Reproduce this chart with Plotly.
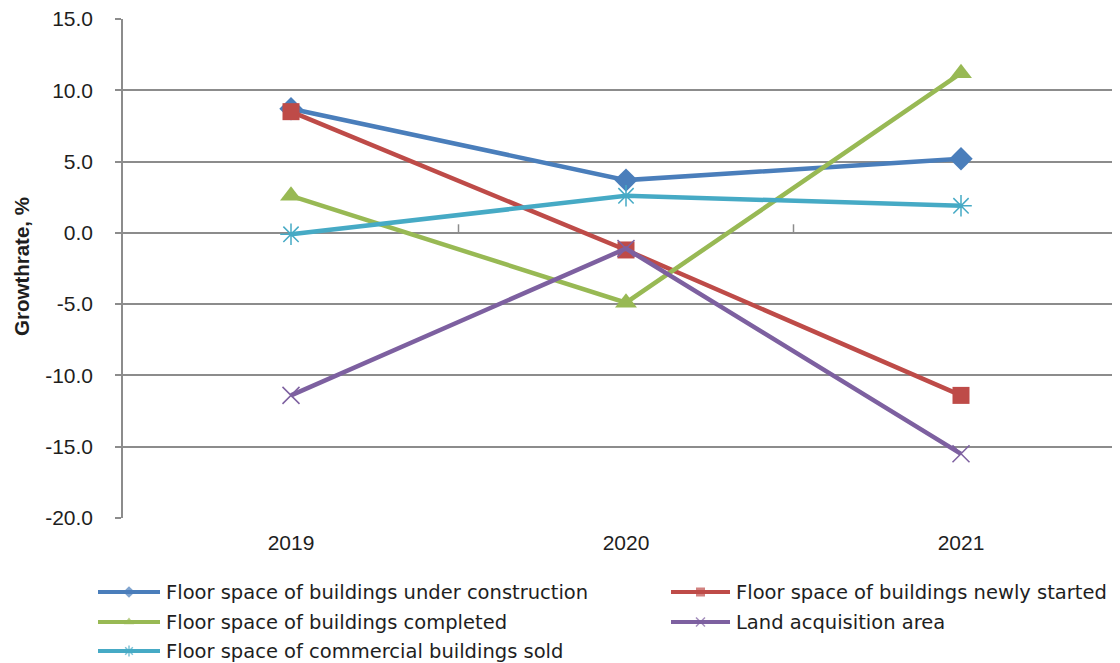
import plotly.graph_objects as go

years = ["2019", "2020", "2021"]
under_construction = [8.7, 3.7, 5.2]
newly_started = [8.5, -1.2, -11.4]
completed = [2.6, -4.9, 11.2]
land_acquisition = [-11.4, -1.1, -15.5]
commercial_sold = [-0.1, 2.6, 1.9]
y_ticks = [15, 10, 5, 0, -5, -10, -15, -20]

series = [
    ("Floor space of buildings under construction", under_construction, "#4A7EBB", "diamond", 18, 0),
    ("Floor space of buildings newly started", newly_started, "#BE4B48", "square", 17, 0),
    ("Floor space of buildings completed", completed, "#98B954", "triangle-up", 19, 0),
    ("Land acquisition area", land_acquisition, "#7D60A0", "x-thin-open", 17, 1.5),
    ("Floor space of commercial buildings sold", commercial_sold, "#46AAC5", "asterisk-open", 18, 1.5),
]

FONT = "Liberation Sans, Arial, sans-serif"
LEG_FONT = "DejaVu Sans, Liberation Sans, sans-serif"
OFF = 8                      # page body margin
W, H = 1120 - OFF, 663 - OFF
PL, PR, PT, PB = 123 - OFF, 1120 - OFF, 19 - OFF, 518 - OFF   # plot area (figure px)
LEG_TOP = 560 - OFF

fig = go.Figure()
for name, vals, color, sym, size, lw in series:
    fig.add_trace(go.Scatter(
        x=years, y=vals, name=name, mode="lines+markers", showlegend=False,
        line=dict(color=color, width=4.5),
        marker=dict(symbol=sym, size=size, color=color,
                    line=dict(color=color, width=lw)),
        xaxis="x", yaxis="y",
    ))

# custom legend (2 columns) drawn in a pixel-coordinate overlay subplot
leg_cols = [(98 - OFF, 160 - OFF, 164 - OFF), (671 - OFF, 730 - OFF, 734 - OFF)]
leg_rows = [592 - OFF, 622 - OFF, 651 - OFF]
annotations = []
for i, (name, vals, color, sym, size, lw) in enumerate(series):
    r, c = divmod(i, 2)
    x0, x1, tx = leg_cols[c]
    yy = leg_rows[r]
    fig.add_trace(go.Scatter(
        x=[x0, (x0 + x1) / 2, x1], y=[yy, yy, yy], mode="lines+markers",
        showlegend=False, hoverinfo="skip",
        line=dict(color=color, width=4),
        marker=dict(symbol=sym, size=[0, 9, 0], color=color,
                    line=dict(color=color, width=lw)),
        xaxis="x2", yaxis="y2",
    ))
    annotations.append(dict(text=name, x=tx, y=yy, xref="x2", yref="y2",
                            xanchor="left", yanchor="middle", showarrow=False,
                            font=dict(family=LEG_FONT, size=19.5, color="#1E1E1E")))

annotations.append(dict(text="<b>Growthrate, %</b>", textangle=-90,
                        x=(22 - OFF) / W, y=1 - (267 - OFF) / H, xref="paper", yref="paper",
                        xanchor="center", yanchor="middle", showarrow=False,
                        font=dict(family=FONT, size=20.5, color="#1E1E1E")))

shapes = []
for b in [0.5, 1.5]:
    shapes.append(dict(type="line", xref="x", yref="y", x0=b, x1=b, y0=0, y1=0.6,
                       line=dict(color="#8C8C8C", width=1.5), layer="below"))

px_per_cat = 335.0
cat0 = 291.0 - OFF
fig.update_layout(
    width=W, height=H,
    margin=dict(l=0, r=0, t=0, b=0, autoexpand=False),
    plot_bgcolor="rgba(0,0,0,0)", paper_bgcolor="white",
    font=dict(family=FONT, size=21, color="#1E1E1E"),
    showlegend=False,
    annotations=annotations,
    shapes=shapes,
    xaxis=dict(domain=[PL / W, PR / W], anchor="y", type="category",
               range=[(PL - cat0) / px_per_cat, (PR - cat0) / px_per_cat],
               showgrid=False, showline=False, zeroline=False, ticks="",
               tickfont=dict(size=21), ticklabelstandoff=10),
    yaxis=dict(domain=[1 - PB / H, 1 - PT / H], anchor="x",
               range=[-20, 15], tickvals=y_ticks, ticktext=[f"{v:.1f}" for v in y_ticks],
               showgrid=True, gridcolor="#8C8C8C", gridwidth=1.5,
               zeroline=False, showline=True, linecolor="#8C8C8C", linewidth=1.5,
               ticks="outside", ticklen=6, tickcolor="#8C8C8C", tickwidth=1.5,
               tickfont=dict(size=21), ticklabelstandoff=18,
               ticklabeloverflow="allow"),
    xaxis2=dict(domain=[0, 1], anchor="y2", range=[0, W], visible=False, fixedrange=True),
    yaxis2=dict(domain=[0, 1 - LEG_TOP / H], anchor="x2", range=[H, LEG_TOP],
                visible=False, fixedrange=True),
)
fig.write_html("out.html")
